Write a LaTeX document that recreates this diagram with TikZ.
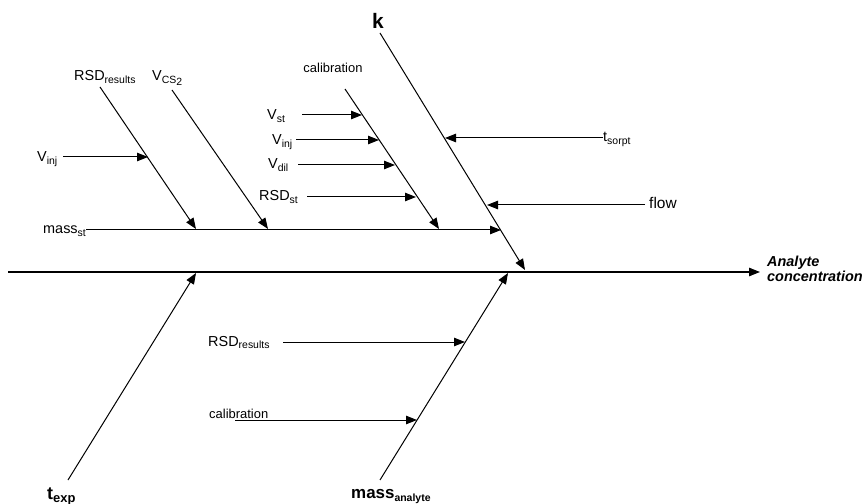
\documentclass[tikz,border=0pt]{standalone}
\usepackage{fontspec}
\setmainfont{Liberation Sans}
\usetikzlibrary{arrows.meta}
\newcommand\lsub[1]{\raisebox{-0.2em}{\fontsize{10.5}{11}\selectfont #1}}
\newcommand\bsub[1]{\raisebox{-0.2em}{\fontsize{13}{14}\selectfont\bfseries #1}}
\begin{document}
\begin{tikzpicture}[x=1bp,y=-1bp,
  lab/.style={inner sep=0pt,anchor=base west,font=\fontsize{14.5}{16}\selectfont},
  smalllab/.style={inner sep=0pt,anchor=base west,font=\fontsize{13}{15}\selectfont},
  boldlab/.style={inner sep=0pt,anchor=base west,font=\fontsize{18}{20}\selectfont\bfseries},
  bone/.style={draw=black,line width=1bp},
  arr/.style={bone,-{Triangle[length=11bp,width=8.5bp]}}]
\useasboundingbox[fill=white] (0,0) rectangle (864,504);

% spine
\coordinate (s0) at (8,272);
\coordinate (s1) at (760,272);
\draw[arr,line width=1.1bp] (s0) -- (s1);
\node[inner sep=0pt,anchor=west,align=left,font=\fontsize{14.5}{13.5}\selectfont\bfseries\itshape] (ac) at (767,269) {Analyte\\concentration};

% k bone
\node[inner sep=0pt,font=\fontsize{21}{22}\selectfont\bfseries] (k) at (378,21) {k};
\coordinate (k0) at (380,33);
\coordinate (k1) at (525,270);
\draw[arr] (k0) -- (k1);
\node[lab] (tsorpt) at (603,142) {t\lsub{sorpt}};
\coordinate (ts0) at (603,138);
\coordinate (ts1) at (445,138);
\draw[arr] (ts0) -- (ts1);
\node[lab,font=\fontsize{15.5}{17}\selectfont] (flow) at (649,209) {flow};
\coordinate (fl0) at (645,205);
\coordinate (fl1) at (487,205);
\draw[arr] (fl0) -- (fl1);

% mass_st bone
\node[lab] (massst) at (43,234) {mass\lsub{st}};
\coordinate (ms0) at (86,230);
\coordinate (ms1) at (501,230);
\draw[arr] (ms0) -- (ms1);

% RSD results (top)
\node[lab] (rsdr) at (74,81) {RSD\lsub{results}};
\coordinate (rr0) at (100,87);
\coordinate (rr1) at (196,229);
\draw[arr] (rr0) -- (rr1);
\node[lab] (vinjl) at (37,162) {V\lsub{inj}};
\coordinate (vi0) at (63,157);
\coordinate (vi1) at (148,157);
\draw[arr] (vi0) -- (vi1);

% V_CS2
\node[lab] (vcs) at (152,81) {V\lsub{CS\lsub{2}}};
\coordinate (vc0) at (172,90);
\coordinate (vc1) at (268,229);
\draw[arr] (vc0) -- (vc1);

% calibration (top)
\node[smalllab,anchor=base] (calt) at (333,73) {calibration};
\coordinate (ca0) at (345,89);
\coordinate (ca1) at (439,229);
\draw[arr] (ca0) -- (ca1);
\node[lab] (vst) at (267,120) {V\lsub{st}};
\coordinate (vs0) at (302,115);
\coordinate (vs1) at (362,115);
\draw[arr] (vs0) -- (vs1);
\node[lab] (vinj) at (272,145) {V\lsub{inj}};
\coordinate (vj0) at (296,140);
\coordinate (vj1) at (379,140);
\draw[arr] (vj0) -- (vj1);
\node[lab] (vdil) at (268,169) {V\lsub{dil}};
\coordinate (vd0) at (298,165);
\coordinate (vd1) at (395,165);
\draw[arr] (vd0) -- (vd1);
\node[lab] (rsdst) at (259,201) {RSD\lsub{st}};
\coordinate (rs0) at (307,197);
\coordinate (rs1) at (416,197);
\draw[arr] (rs0) -- (rs1);

% t_exp bone
\node[boldlab] (texp) at (47,499) {t\bsub{exp}};
\coordinate (te0) at (68,480);
\coordinate (te1) at (196,273);
\draw[arr] (te0) -- (te1);

% mass_analyte bone
\node[boldlab,font=\fontsize{17}{18}\selectfont\bfseries] (mana) at (351,498) {mass\lsub{analyte}};
\coordinate (ma0) at (380,480);
\coordinate (ma1) at (508,273);
\draw[arr] (ma0) -- (ma1);
\node[lab] (rsdb) at (208,346) {RSD\lsub{results}};
\coordinate (rb0) at (283,342);
\coordinate (rb1) at (465,342);
\draw[arr] (rb0) -- (rb1);
\node[smalllab] (calb) at (209,418) {calibration};
\coordinate (cb0) at (235,420);
\coordinate (cb1) at (417,420);
\draw[arr] (cb0) -- (cb1);
\end{tikzpicture}
\end{document}
